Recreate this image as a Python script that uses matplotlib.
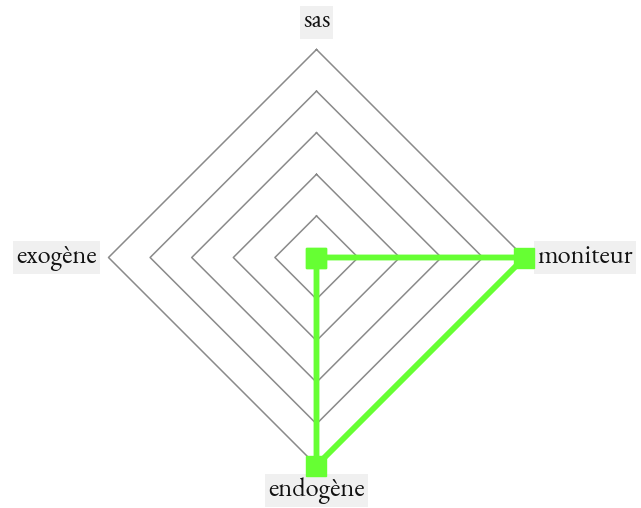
import matplotlib
matplotlib.use('Agg')
import matplotlib.pyplot as plt
import numpy as np

# Data
categories = ['sas', 'moniteur', 'endogène', 'exogène']
values = [0, 5, 5, 0]
levels = [1, 2, 3, 4, 5]

# clockwise from top
angles = np.pi / 2 - np.arange(len(categories)) * 2 * np.pi / len(categories)

W, H = 641, 508
cx, cy = 316.5, 257.5     # centre, pixels
scale = 208 / 5.0         # pixels per unit

fig = plt.figure(figsize=(W / 100, H / 100), dpi=100)
ax = fig.add_axes([0, 0, 1, 1])
ax.set_xlim(-cx / scale, (W - cx) / scale)
ax.set_ylim(-(H - cy) / scale, cy / scale)
ax.axis('off')

# grid diamonds
for lv in levels:
    gx = np.append(lv * np.cos(angles), lv * np.cos(angles[0]))
    gy = np.append(lv * np.sin(angles), lv * np.sin(angles[0]))
    ax.plot(gx, gy, color='#8a8a8a', lw=1.1, zorder=1)

# series
vals = np.array(values, dtype=float)
sx = np.append(vals * np.cos(angles), vals[0] * np.cos(angles[0]))
sy = np.append(vals * np.sin(angles), vals[0] * np.sin(angles[0]))
ax.plot(sx, sy, color='#66ff33', lw=4.2, solid_joinstyle='miter', zorder=3)
ax.plot(sx[:-1], sy[:-1], ls='none', marker='s', ms=14, color='#66ff33',
        zorder=4)

# labels
font = dict(family='EB Garamond', fontsize=19, color='#111111')
box = dict(boxstyle='square,pad=0.12', facecolor='#f0f0f0', edgecolor='none')
R = levels[-1]
offsets = [((0, 14), 'center', 'bottom'),
           ((13, 0), 'left', 'center'),
           ((0, -12), 'center', 'top'),
           ((-12, 0), 'right', 'center')]
for cat, a, (off, ha, va) in zip(categories, angles, offsets):
    ax.annotate(cat, xy=(R * np.cos(a), R * np.sin(a)), xytext=off,
                textcoords='offset pixels', ha=ha, va=va, bbox=box, **font)

fig.savefig('out.png', dpi=100)
